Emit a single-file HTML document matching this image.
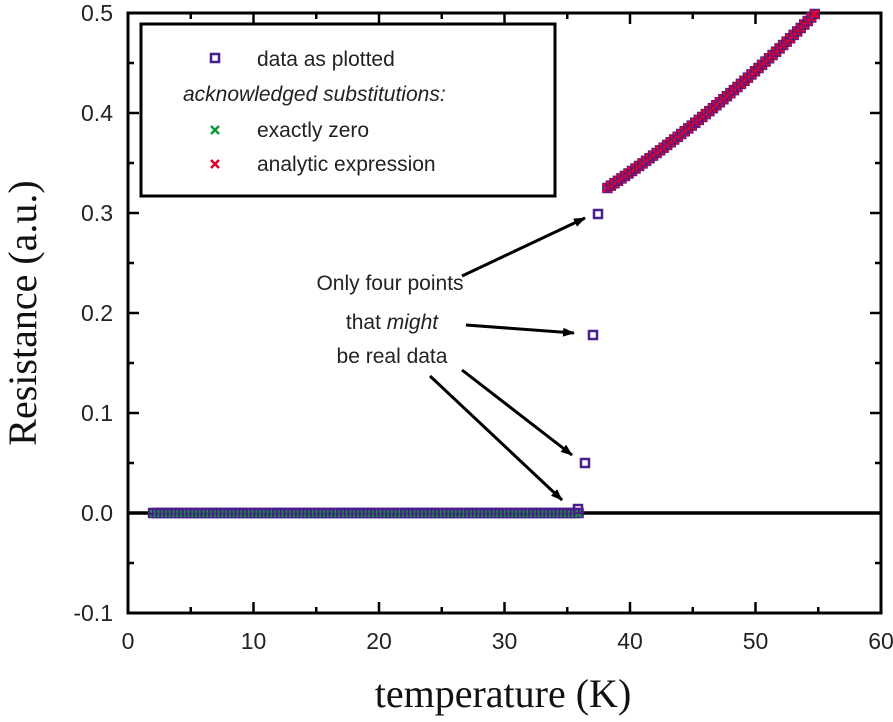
<!DOCTYPE html><html><head><style>body{margin:0;background:#fff}svg{display:block}</style></head><body>
<svg id="s" width="893" height="722" xmlns="http://www.w3.org/2000/svg" font-family="Liberation Sans, sans-serif">
<rect x="128" y="13" width="753" height="600" fill="none" stroke="#000" stroke-width="3"/>
<line x1="128" y1="513" x2="881" y2="513" stroke="#000" stroke-width="3.5"/>
<g id="ticks" stroke="#000" stroke-width="2.5"></g>
<g font-size="23" fill="#222" text-anchor="end">
<text x="113" y="21">0.5</text><text x="113" y="121">0.4</text><text x="113" y="221">0.3</text><text x="113" y="321">0.2</text><text x="113" y="421">0.1</text><text x="113" y="521">0.0</text><text x="113" y="621">-0.1</text></g>
<g font-size="23" fill="#222" text-anchor="middle">
<text x="128" y="649">0</text><text x="253.5" y="649">10</text><text x="379" y="649">20</text><text x="504.5" y="649">30</text><text x="630" y="649">40</text><text x="755.5" y="649">50</text><text x="881" y="649">60</text></g>
<text x="503" y="707" font-family="Liberation Serif, serif" font-size="40" text-anchor="middle" fill="#111">temperature (K)</text>
<text transform="translate(36,313) rotate(-90)" font-family="Liberation Serif, serif" font-size="40" text-anchor="middle" fill="#111">Resistance (a.u.)</text>
<rect x="141" y="24" width="414" height="172" fill="#fff" stroke="#000" stroke-width="3"/>
<rect x="211" y="54" width="8" height="8" fill="none" stroke="#4b1e8c" stroke-width="2.5"/>
<text x="257" y="66" font-size="21" fill="#222">data as plotted</text>
<text x="183" y="101" font-size="21" font-style="italic" fill="#222">acknowledged substitutions:</text>
<path d="M211,126 L219,134 M211,134 L219,126" stroke="#0a9a3a" stroke-width="2.5"/>
<text x="257" y="137" font-size="21" fill="#222">exactly zero</text>
<path d="M211,160 L219,168 M211,168 L219,160" stroke="#e0002a" stroke-width="2.5"/>
<text x="257" y="171" font-size="21" fill="#222">analytic expression</text>
<g font-size="21" fill="#222" text-anchor="middle">
<text x="390" y="290">Only four points</text>
<text x="392" y="329">that <tspan font-style="italic">might</tspan></text>
<text x="392" y="363">be real data</text></g>
<defs><marker id="a" markerWidth="12" markerHeight="9" refX="11" refY="4.5" orient="auto" markerUnits="userSpaceOnUse"><path d="M0,0 L12,4.5 L0,9 Z" fill="#000"/></marker></defs>
<g stroke="#000" stroke-width="3" marker-end="url(#a)" fill="none">
<line x1="462" y1="276" x2="585" y2="218"/>
<line x1="466" y1="325" x2="574" y2="333"/>
<line x1="462" y1="370" x2="572" y2="455"/>
<line x1="430" y1="376" x2="562" y2="500"/>
</g>
<g id="pts"></g>
</svg>
<script>
var ns="http://www.w3.org/2000/svg",t=document.getElementById("ticks"),p=document.getElementById("pts");
function X(v){return 128+v*12.55}function Y(v){return 513-v*1000}
function el(n,a,par){var e=document.createElementNS(ns,n);for(var k in a)e.setAttribute(k,a[k]);(par||p).appendChild(e);return e}
for(var i=1;i<12;i++){var x=128+i*62.75,L=i%2?6:11;el("line",{x1:x,y1:613,x2:x,y2:613-L},t);el("line",{x1:x,y1:13,x2:x,y2:13+L},t)}
for(var i=1;i<12;i++){var y=13+i*50,L=i%2?6:11;el("line",{x1:128,y1:y,x2:128+L,y2:y},t);el("line",{x1:881,y1:y,x2:881-L,y2:y},t)}
function cross(x,y,c,s,w){el("path",{d:"M"+(x-s)+","+(y-s)+"L"+(x+s)+","+(y+s)+"M"+(x-s)+","+(y+s)+"L"+(x+s)+","+(y-s),stroke:c,"stroke-width":w})}
function sq(x,y){el("rect",{x:x-4,y:y-4,width:8,height:8,fill:"none",stroke:"#4b1e8c","stroke-width":2.5})}
for(var T=2;T<=36;T+=0.3){sq(X(T),513);cross(X(T),514,"#0a9a3a",3,2)}
for(var T=38.2;T<=54.8;T+=0.28){var f=(T-38.2)/16.6;var r=0.325+0.175*(f*0.8+0.2*f*f);sq(X(T),Y(r));cross(X(T),Y(r),"#e0002a",4,3)}
sq(598,214);sq(593,335);sq(585,463);sq(578,509);
</script>
</body></html>
